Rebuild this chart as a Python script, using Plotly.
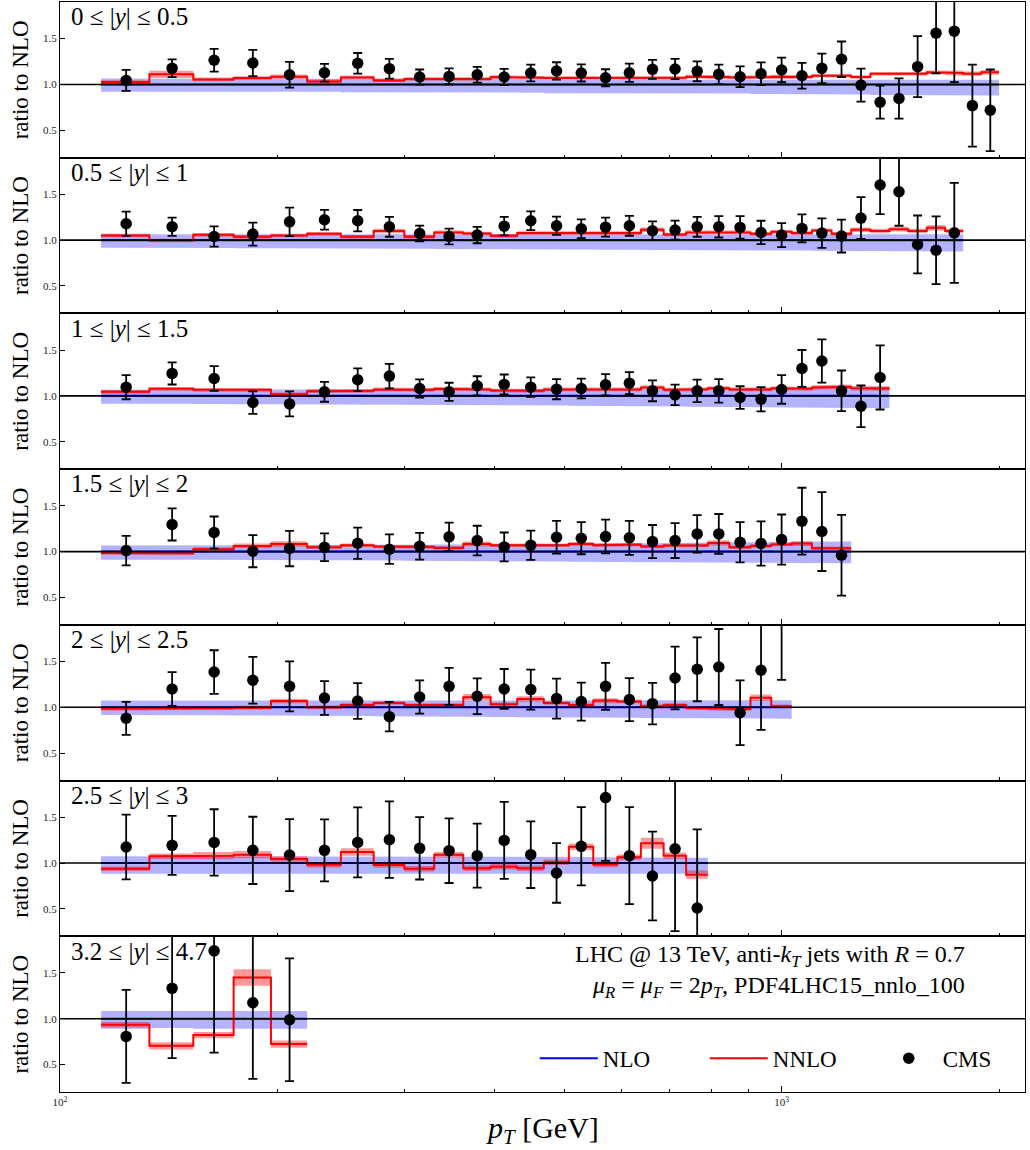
import plotly.graph_objects as go
from plotly.subplots import make_subplots

# ---------------- data ----------------
edges = [114, 133, 153, 174, 196, 220, 245, 272, 300, 330, 362, 395, 430, 468, 507, 548,
         592, 638, 686, 737, 790, 846, 905, 967, 1032, 1101, 1172, 1248, 1327, 1410,
         1497, 1588, 1684, 1784, 1890, 2000]

rap_labels = ["0 ≤ |<i>y</i>| ≤ 0.5", "0.5 ≤ |<i>y</i>| ≤ 1", "1 ≤ |<i>y</i>| ≤ 1.5",
              "1.5 ≤ |<i>y</i>| ≤ 2", "2 ≤ |<i>y</i>| ≤ 2.5", "2.5 ≤ |<i>y</i>| ≤ 3",
              "3.2 ≤ |<i>y</i>| ≤ 4.7"]

# CMS data / NLO
cms1 = [1.044, 1.176, 1.264, 1.234, 1.106, 1.128, 1.231, 1.172, 1.081, 1.088, 1.106, 1.081,
        1.125, 1.147, 1.125, 1.073, 1.128, 1.165, 1.168, 1.143, 1.11, 1.084, 1.117, 1.158,
        1.095, 1.176, 1.275, 0.993, 0.806, 0.846, 1.194, 1.56, 1.582, 0.769, 0.718]
err1 = [0.115, 0.097, 0.125, 0.143, 0.141, 0.097, 0.112, 0.108, 0.082, 0.088, 0.086, 0.088,
        0.092, 0.095, 0.093, 0.093, 0.1, 0.104, 0.11, 0.108, 0.106, 0.114, 0.123, 0.134,
        0.141, 0.161, 0.194, 0.18, 0.18, 0.22, 0.333, 0.44, 0.556, 0.447, 0.445]
cms2 = [1.179, 1.146, 1.04, 1.066, 1.2, 1.223, 1.212, 1.146, 1.073, 1.04, 1.055, 1.153,
        1.212, 1.157, 1.124, 1.142, 1.157, 1.102, 1.11, 1.146, 1.146, 1.139, 1.084, 1.055,
        1.128, 1.077, 1.044, 1.241, 1.602, 1.529, 0.953, 0.89, 1.08]
err2 = [0.133, 0.1, 0.111, 0.126, 0.155, 0.108, 0.117, 0.109, 0.086, 0.086, 0.089, 0.1,
        0.102, 0.1, 0.102, 0.104, 0.109, 0.102, 0.104, 0.109, 0.117, 0.124, 0.128, 0.131,
        0.153, 0.161, 0.179, 0.228, 0.318, 0.372, 0.316, 0.37, 0.546]
cms3 = [1.095, 1.245, 1.19, 0.927, 0.912, 1.044, 1.176, 1.216, 1.081, 1.044, 1.11, 1.125,
        1.095, 1.073, 1.081, 1.121, 1.139, 1.055, 1.011, 1.055, 1.055, 0.982, 0.963, 1.07,
        1.3, 1.381, 1.055, 0.886, 1.201]
err3 = [0.132, 0.121, 0.134, 0.123, 0.136, 0.108, 0.125, 0.134, 0.1, 0.099, 0.104, 0.108,
        0.106, 0.11, 0.108, 0.117, 0.121, 0.114, 0.112, 0.123, 0.128, 0.123, 0.132, 0.156,
        0.201, 0.236, 0.222, 0.227, 0.35]
cms4 = [1.011, 1.296, 1.208, 1.004, 1.033, 1.047, 1.091, 1.026, 1.058, 1.161, 1.12, 1.051,
        1.069, 1.157, 1.146, 1.164, 1.15, 1.109, 1.12, 1.193, 1.193, 1.102, 1.088, 1.131,
        1.332, 1.219, 0.96]
err4 = [0.161, 0.175, 0.175, 0.175, 0.193, 0.151, 0.17, 0.161, 0.146, 0.155, 0.162, 0.157,
        0.159, 0.179, 0.175, 0.184, 0.186, 0.181, 0.19, 0.204, 0.217, 0.219, 0.241, 0.274,
        0.365, 0.431, 0.44]
cms5 = [0.88, 1.2, 1.385, 1.295, 1.229, 1.102, 1.069, 0.898, 1.113, 1.229, 1.12, 1.2,
        1.193, 1.095, 1.062, 1.229, 1.084, 1.04, 1.32, 1.415, 1.44, 0.94, 1.404, 2.0]
err5 = [0.18, 0.184, 0.238, 0.255, 0.273, 0.184, 0.195, 0.16, 0.182, 0.202, 0.195, 0.218,
        0.218, 0.218, 0.207, 0.256, 0.235, 0.227, 0.342, 0.349, 0.415, 0.353, 0.651, 0.7]
cms6 = [1.175, 1.193, 1.225, 1.138, 1.087, 1.138, 1.225, 1.255, 1.16, 1.135, 1.08, 1.247,
        1.091, 0.891, 1.182, 1.714, 1.08, 0.858, 1.156, 0.509]
err6 = [0.353, 0.322, 0.362, 0.367, 0.393, 0.338, 0.382, 0.418, 0.34, 0.353, 0.349, 0.42,
        0.364, 0.325, 0.427, 0.69, 0.529, 0.484, 0.9, 0.858]
cms7 = [0.807, 1.332, 1.741, 1.175, 0.989]
err7 = [0.507, 0.763, 1.11, 0.832, 0.67]

# NNLO / NLO central
nnlo1 = [1.026, 1.11, 1.055, 1.07, 1.084, 1.033, 1.077, 1.044, 1.059, 1.066, 1.059, 1.08,
         1.073, 1.07, 1.075, 1.07, 1.07, 1.068, 1.072, 1.085, 1.08, 1.075, 1.08, 1.085,
         1.081, 1.095, 1.095, 1.081, 1.117, 1.117, 1.117, 1.132, 1.125, 1.117, 1.132]
nnlo2 = [1.051, 0.996, 1.058, 1.036, 1.051, 1.069, 1.036, 1.099, 1.036, 1.084, 1.073, 1.047,
         1.077, 1.077, 1.077, 1.069, 1.077, 1.113, 1.062, 1.084, 1.084, 1.084, 1.069, 1.091,
         1.077, 1.106, 1.069, 1.113, 1.099, 1.12, 1.099, 1.135, 1.099]
nnlo3 = [1.044, 1.077, 1.066, 1.066, 1.018, 1.051, 1.055, 1.07, 1.066, 1.077, 1.07, 1.059,
         1.055, 1.07, 1.073, 1.07, 1.07, 1.092, 1.066, 1.073, 1.084, 1.07, 1.07, 1.084,
         1.077, 1.092, 1.099, 1.084, 1.081]
nnlo4 = [0.985, 0.982, 1.026, 1.062, 1.084, 1.047, 1.069, 1.055, 1.051, 1.04, 1.084, 1.069,
         1.062, 1.069, 1.084, 1.069, 1.077, 1.055, 1.066, 1.066, 1.095, 1.047, 1.062, 1.077,
         1.088, 1.036, 1.036]
nnlo5 = [0.985, 0.989, 0.989, 0.996, 1.069, 1.0, 1.025, 1.047, 1.025, 1.025, 1.11, 1.033,
         1.091, 1.047, 1.025, 1.073, 1.062, 1.011, 1.025, 0.993, 0.985, 0.982, 1.105, 1.011]
nnlo6 = [0.938, 1.073, 1.08, 1.091, 1.044, 0.982, 1.12, 0.978, 0.938, 1.091, 0.942, 0.96,
         0.942, 1.007, 1.178, 0.985, 1.062, 1.215, 1.08, 0.873]
nnlo7 = [0.934, 0.704, 0.821, 1.449, 0.723]

# NNLO scale-band half widths
nnband1 = [0.02, 0.04, 0.02, 0.02, 0.025, 0.02, 0.02, 0.02, 0.02, 0.02, 0.02, 0.02,
           0.02, 0.02, 0.02, 0.02, 0.02, 0.02, 0.02, 0.02, 0.02, 0.02, 0.02, 0.02,
           0.02, 0.02, 0.02, 0.02, 0.02, 0.02, 0.02, 0.02, 0.025, 0.025, 0.025]
nnband2 = [0.02, 0.02, 0.02, 0.02, 0.02, 0.02, 0.02, 0.025, 0.02, 0.02, 0.02, 0.02,
           0.02, 0.02, 0.02, 0.02, 0.02, 0.025, 0.02, 0.02, 0.02, 0.02, 0.02, 0.02,
           0.02, 0.02, 0.02, 0.025, 0.025, 0.025, 0.025, 0.03, 0.025]
nnband3 = [0.02, 0.02, 0.02, 0.02, 0.02, 0.02, 0.02, 0.02, 0.02, 0.02, 0.02, 0.02,
           0.02, 0.02, 0.02, 0.02, 0.02, 0.02, 0.02, 0.02, 0.02, 0.02, 0.02, 0.02,
           0.02, 0.025, 0.025, 0.025, 0.025]
nnband4 = [0.02, 0.02, 0.02, 0.025, 0.03, 0.02, 0.02, 0.02, 0.02, 0.02, 0.025, 0.02,
           0.02, 0.02, 0.02, 0.02, 0.02, 0.02, 0.02, 0.02, 0.03, 0.02, 0.02, 0.02,
           0.025, 0.02, 0.02]
nnband5 = [0.02, 0.02, 0.02, 0.02, 0.025, 0.02, 0.02, 0.02, 0.02, 0.02, 0.035, 0.02,
           0.03, 0.02, 0.02, 0.025, 0.02, 0.02, 0.02, 0.02, 0.02, 0.02, 0.035, 0.02]
nnband6 = [0.025, 0.03, 0.04, 0.04, 0.03, 0.03, 0.04, 0.03, 0.03, 0.03, 0.03, 0.03,
           0.03, 0.03, 0.035, 0.03, 0.03, 0.06, 0.035, 0.045]
nnband7 = [0.03, 0.04, 0.035, 0.09, 0.04]

# NLO scale-band (upper / lower offsets)
nlo_up1 = [0.065, 0.06, 0.06, 0.06, 0.06, 0.06, 0.06, 0.06, 0.06, 0.06, 0.06, 0.06,
           0.055, 0.055, 0.055, 0.055, 0.055, 0.055, 0.055, 0.055, 0.055, 0.055, 0.055, 0.055,
           0.055, 0.05, 0.05, 0.05, 0.05, 0.05, 0.05, 0.05, 0.05, 0.05, 0.05]
nlo_dn1 = [0.08, 0.08, 0.08, 0.08, 0.08, 0.08, 0.085, 0.085, 0.085, 0.085, 0.09, 0.09,
           0.09, 0.095, 0.095, 0.095, 0.1, 0.1, 0.1, 0.1, 0.1, 0.1, 0.105, 0.105,
           0.105, 0.11, 0.11, 0.11, 0.115, 0.115, 0.115, 0.115, 0.12, 0.12, 0.12]
nlo_up2 = [0.065, 0.065, 0.065, 0.065, 0.065, 0.065, 0.065, 0.065, 0.065, 0.065, 0.065, 0.065,
           0.065, 0.065, 0.065, 0.065, 0.065, 0.065, 0.065, 0.065, 0.065, 0.065, 0.065, 0.065,
           0.065, 0.065, 0.065, 0.065, 0.065, 0.065, 0.065, 0.065, 0.065]
nlo_dn2 = [0.084, 0.085, 0.085, 0.088, 0.088, 0.09, 0.09, 0.092, 0.094, 0.096, 0.098, 0.1,
           0.1, 0.102, 0.104, 0.104, 0.106, 0.108, 0.108, 0.11, 0.11, 0.112, 0.112, 0.114,
           0.114, 0.116, 0.116, 0.118, 0.12, 0.12, 0.122, 0.122, 0.124]
nlo_up3 = [0.066, 0.066, 0.066, 0.066, 0.066, 0.066, 0.066, 0.068, 0.068, 0.068, 0.07, 0.07,
           0.07, 0.072, 0.072, 0.074, 0.074, 0.076, 0.078, 0.08, 0.082, 0.084, 0.086, 0.088,
           0.09, 0.092, 0.095, 0.098, 0.1]
nlo_dn3 = [0.085, 0.085, 0.088, 0.09, 0.09, 0.092, 0.094, 0.096, 0.098, 0.1, 0.1, 0.102,
           0.104, 0.106, 0.108, 0.11, 0.112, 0.114, 0.116, 0.118, 0.12, 0.122, 0.124, 0.126,
           0.128, 0.13, 0.132, 0.134, 0.135]
nlo_up4 = [0.066, 0.066, 0.066, 0.068, 0.068, 0.07, 0.07, 0.072, 0.074, 0.076, 0.078, 0.08,
           0.082, 0.084, 0.086, 0.088, 0.09, 0.092, 0.094, 0.096, 0.098, 0.1, 0.102, 0.104,
           0.106, 0.108, 0.11]
nlo_dn4 = [0.088, 0.088, 0.09, 0.09, 0.092, 0.094, 0.096, 0.098, 0.1, 0.1, 0.102, 0.104,
           0.106, 0.108, 0.11, 0.11, 0.112, 0.114, 0.116, 0.118, 0.12, 0.12, 0.122, 0.124,
           0.126, 0.128, 0.128]
nlo_up5 = [0.073, 0.073, 0.073, 0.073, 0.073, 0.073, 0.073, 0.073, 0.073, 0.073, 0.073, 0.073,
           0.074, 0.074, 0.074, 0.075, 0.075, 0.075, 0.076, 0.076, 0.076, 0.076, 0.076, 0.076]
nlo_dn5 = [0.084, 0.086, 0.088, 0.09, 0.092, 0.094, 0.096, 0.098, 0.1, 0.102, 0.104, 0.106,
           0.108, 0.11, 0.112, 0.114, 0.115, 0.116, 0.118, 0.12, 0.12, 0.122, 0.124, 0.124]
nlo_up6 = [0.073, 0.073, 0.073, 0.073, 0.073, 0.073, 0.073, 0.073, 0.073, 0.073, 0.07, 0.07,
           0.07, 0.068, 0.066, 0.064, 0.062, 0.06, 0.058, 0.058]
nlo_dn6 = [0.116, 0.116, 0.116, 0.116, 0.116, 0.116, 0.116, 0.116, 0.116, 0.116, 0.116, 0.116,
           0.116, 0.116, 0.116, 0.116, 0.116, 0.116, 0.116, 0.116]
nlo_up7 = [0.084, 0.084, 0.084, 0.084, 0.084]
nlo_dn7 = [0.11, 0.1, 0.11, 0.11, 0.11]

cms = [cms1, cms2, cms3, cms4, cms5, cms6, cms7]
errs = [err1, err2, err3, err4, err5, err6, err7]
nnlo = [nnlo1, nnlo2, nnlo3, nnlo4, nnlo5, nnlo6, nnlo7]
nnband = [nnband1, nnband2, nnband3, nnband4, nnband5, nnband6, nnband7]
nlo_up = [nlo_up1, nlo_up2, nlo_up3, nlo_up4, nlo_up5, nlo_up6, nlo_up7]
nlo_dn = [nlo_dn1, nlo_dn2, nlo_dn3, nlo_dn4, nlo_dn5, nlo_dn6, nlo_dn7]

x_range_log = [2.0, 3.337]
x_tickvals = [100, 1000]
x_ticktext = ["10<sup>2</sup>", "10<sup>3</sup>"]
x_minor = [200, 300, 400, 500, 600, 700, 800, 900, 2000]
y_tickvals = [0.5, 1.0, 1.5]
y_ticktext = ["0.5", "1.0", "1.5"]

FONT = "Liberation Serif"


def step_xy(vals):
    xs, ys = [], []
    for i, v in enumerate(vals):
        xs += [edges[i], edges[i + 1]]
        ys += [v, v]
    return xs, ys


NP = 7
fig = make_subplots(rows=NP, cols=1, shared_xaxes=True, vertical_spacing=0)

for r in range(NP):
    row = r + 1
    n = len(cms[r])
    first = (r == 0)
    # NLO band
    up = [1 + u for u in nlo_up[r]]
    dn = [1 - d for d in nlo_dn[r]]
    xs, yu = step_xy(up)
    _, yd = step_xy(dn)
    fig.add_trace(go.Scatter(x=xs + xs[::-1], y=yu + yd[::-1], fill="toself",
                             fillcolor="rgba(0,0,255,0.30)", mode="lines",
                             line=dict(width=0), showlegend=False, hoverinfo="skip"),
                  row=row, col=1)
    # NLO line
    xs, y1 = step_xy([1.0] * n)
    fig.add_trace(go.Scatter(x=xs, y=y1, mode="lines", line=dict(color="blue", width=2),
                             name="NLO", showlegend=first, legendrank=1), row=row, col=1)
    # NNLO band
    nu = [c + b for c, b in zip(nnlo[r], nnband[r])]
    nd = [c - b for c, b in zip(nnlo[r], nnband[r])]
    xs, yu = step_xy(nu)
    _, yd = step_xy(nd)
    fig.add_trace(go.Scatter(x=xs + xs[::-1], y=yu + yd[::-1], fill="toself",
                             fillcolor="rgba(255,0,0,0.40)", mode="lines",
                             line=dict(width=0), showlegend=False, hoverinfo="skip"),
                  row=row, col=1)
    # NNLO line
    xs, yc = step_xy(nnlo[r])
    fig.add_trace(go.Scatter(x=xs, y=yc, mode="lines", line=dict(color="red", width=2),
                             name="NNLO", showlegend=first, legendrank=2), row=row, col=1)
    # unity line
    fig.add_trace(go.Scatter(x=[10 ** x_range_log[0], 10 ** x_range_log[1]], y=[1, 1],
                             mode="lines", line=dict(color="black", width=1.6),
                             showlegend=False, hoverinfo="skip"), row=row, col=1)
    # CMS data
    xc = [(edges[i] + edges[i + 1]) / 2 for i in range(n)]
    fig.add_trace(go.Scatter(x=xc, y=cms[r], mode="markers",
                             marker=dict(color="black", size=11.5),
                             error_y=dict(type="data", array=errs[r], color="black",
                                          thickness=1.8, width=4.5),
                             name="CMS", showlegend=first, legendrank=3), row=row, col=1)

    fig.update_yaxes(range=[0.2, 1.9], tickvals=y_tickvals, ticktext=y_ticktext,
                     ticks="inside", ticklen=5, tickwidth=1, tickcolor="black",
                     showline=True, linecolor="black", linewidth=1.3, mirror=True,
                     showgrid=False, zeroline=False,
                     tickfont=dict(family=FONT, size=11, color="#222"),
                     row=row, col=1)
    fig.update_xaxes(type="log", range=x_range_log, tickvals=x_tickvals, ticktext=x_ticktext,
                     ticks="inside", ticklen=6, tickwidth=1, tickcolor="black",
                     minor=dict(tickvals=x_minor, ticks="inside", ticklen=3,
                                tickcolor="black", tickwidth=1),
                     showline=True, linecolor="black", linewidth=1.3, mirror=True,
                     showgrid=False, zeroline=False,
                     tickfont=dict(family=FONT, size=11, color="#222"),
                     row=row, col=1)
    # panel label
    yref = "y domain" if r == 0 else f"y{row} domain"
    xref = "x domain" if r == 0 else f"x{row} domain"
    fig.add_annotation(text=rap_labels[r], xref=xref, yref=yref, x=0.009, y=0.905,
                       xanchor="left", yanchor="middle", showarrow=False,
                       font=dict(family=FONT, size=25, color="black"))
    # y-axis title
    fig.add_annotation(text="ratio to NLO", xref="paper", yref=yref, x=-0.041, y=0.5,
                       xanchor="center", yanchor="middle", textangle=-90, showarrow=False,
                       font=dict(family=FONT, size=23, color="black"))

# process text in last panel
fig.add_annotation(text="LHC @ 13 TeV, anti-<i>k<sub>T</sub></i> jets with <i>R</i> = 0.7",
                   xref="x7 domain", yref="y7 domain", x=0.94, y=0.872,
                   xanchor="right", yanchor="middle", showarrow=False,
                   font=dict(family=FONT, size=24, color="black"))
fig.add_annotation(text="<i>μ<sub>R</sub></i> = <i>μ<sub>F</sub></i> = 2<i>p<sub>T</sub></i>, PDF4LHC15_nnlo_100",
                   xref="x7 domain", yref="y7 domain", x=0.94, y=0.672,
                   xanchor="right", yanchor="middle", showarrow=False,
                   font=dict(family=FONT, size=24, color="black"))
# x title
fig.add_annotation(text="<i>p<sub>T</sub></i> [GeV]", xref="paper", yref="paper",
                   x=0.5, y=-0.0345, xanchor="center", yanchor="middle", showarrow=False,
                   font=dict(family=FONT, size=30, color="black"))

fig.update_layout(
    width=1030, height=1150,
    margin=dict(l=60, r=5, t=2, b=58, autoexpand=False),
    plot_bgcolor="white", paper_bgcolor="white",
    font=dict(family=FONT, color="black"),
    legend=dict(orientation="h", x=0.492, y=0.031, xanchor="left", yanchor="middle",
                bgcolor="rgba(0,0,0,0)", font=dict(family=FONT, size=23, color="black"),
                entrywidth=97, entrywidthmode="pixels", itemwidth=58),
)

fig.write_html("out.html", config={"displayModeBar": False},
               post_script="document.body.style.margin='0';")
